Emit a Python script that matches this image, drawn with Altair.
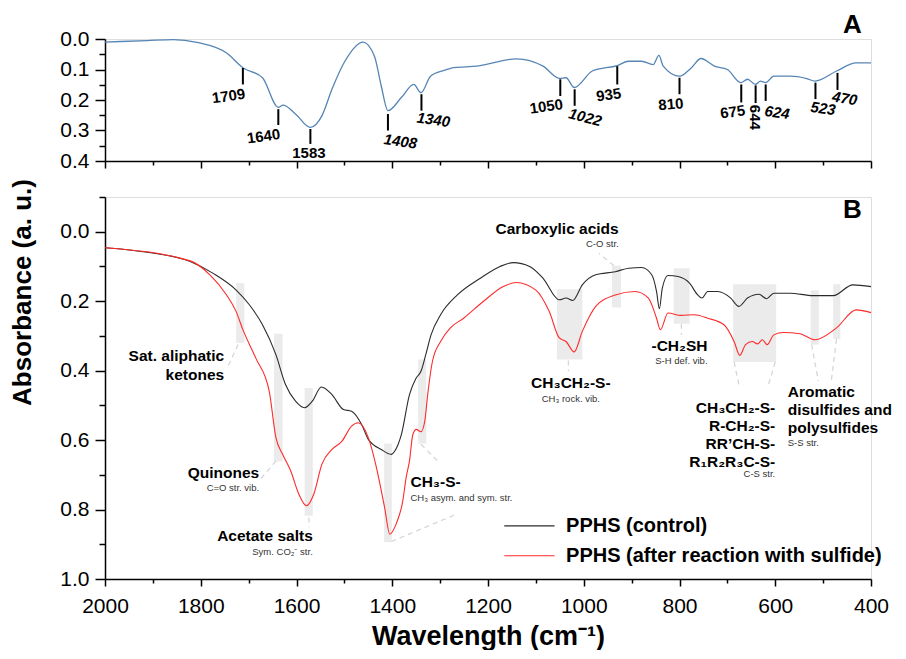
import altair as alt
import pandas as pd

# ---------------- data ----------------
# Panel A spectrum (wavenumber, absorbance)
a_wn = [2000, 1912, 1857, 1808, 1746, 1712, 1671, 1638, 1628, 1602, 1571, 1547, 1526, 1499, 1461,
        1437, 1423, 1409, 1381, 1355, 1340, 1320, 1292, 1271, 1223, 1141, 1085, 1051, 1037, 1020,
        982, 930, 906, 879, 855, 843, 834, 800, 775, 755, 727, 700, 672, 658, 641, 631, 620, 603,
        569, 534, 517, 472, 431, 400]
a_abs = [0.010, 0.005, 0.002, 0.011, 0.046, 0.094, 0.127, 0.224, 0.217, 0.246, 0.290, 0.252, 0.165,
         0.073, 0.010, 0.057, 0.154, 0.235, 0.192, 0.149, 0.176, 0.122, 0.103, 0.094, 0.089, 0.065,
         0.089, 0.129, 0.127, 0.159, 0.105, 0.087, 0.073, 0.073, 0.084, 0.054, 0.089, 0.122, 0.094,
         0.064, 0.089, 0.100, 0.143, 0.132, 0.149, 0.138, 0.143, 0.122, 0.122, 0.130, 0.138, 0.105,
         0.078, 0.078]

# Panel B spectra
series_names = ["PPHS (control)", "PPHS (after reaction with sulfide)"]
series_colors = ["#2b2b2b", "#ff2a2a"]

ctrl_wn = [2000, 1912, 1822, 1774, 1726, 1698, 1671, 1643, 1623, 1602, 1583, 1567, 1548, 1526, 1502,
           1485, 1464, 1450, 1423, 1402, 1395, 1381, 1364, 1350, 1340, 1330, 1319, 1299, 1264, 1216,
           1175, 1147, 1113, 1085, 1051, 1037, 1023, 1003, 975, 934, 906, 879, 858, 848, 842, 836,
           824, 803, 779, 762, 753, 741, 720, 693, 676, 658, 634, 618, 603, 569, 521, 479, 438, 400]
ctrl_abs = [0.046, 0.059, 0.086, 0.120, 0.168, 0.211, 0.268, 0.354, 0.440, 0.488, 0.507, 0.488, 0.447,
            0.469, 0.512, 0.517, 0.555, 0.598, 0.627, 0.641, 0.632, 0.584, 0.469, 0.421, 0.402, 0.354,
            0.297, 0.239, 0.182, 0.134, 0.100, 0.089, 0.100, 0.134, 0.196, 0.191, 0.198, 0.153, 0.124,
            0.115, 0.105, 0.103, 0.124, 0.172, 0.222, 0.163, 0.126, 0.129, 0.148, 0.182, 0.191, 0.172,
            0.172, 0.191, 0.215, 0.191, 0.180, 0.193, 0.177, 0.177, 0.184, 0.184, 0.153, 0.158]

sulf_wn = [2000, 1822, 1781, 1746, 1726, 1712, 1685, 1657, 1643, 1629, 1612, 1595, 1579, 1564, 1547,
           1526, 1505, 1485, 1471, 1450, 1433, 1416, 1405, 1392, 1378, 1371, 1364, 1357, 1350, 1340,
           1332, 1326, 1316, 1299, 1278, 1251, 1210, 1168, 1141, 1100, 1072, 1051, 1037, 1020, 1003,
           975, 934, 893, 865, 848, 840, 824, 797, 769, 741, 707, 686, 674, 662, 648, 637, 627, 617,
           603, 583, 548, 517, 472, 431, 400]
sulf_abs = [0.046, 0.084, 0.124, 0.182, 0.230, 0.282, 0.364, 0.459, 0.593, 0.641, 0.689, 0.756, 0.789,
            0.756, 0.670, 0.627, 0.603, 0.560, 0.550, 0.593, 0.679, 0.794, 0.871, 0.842, 0.775, 0.708,
            0.660, 0.584, 0.569, 0.576, 0.545, 0.469, 0.373, 0.316, 0.276, 0.249, 0.201, 0.158, 0.146,
            0.168, 0.230, 0.306, 0.316, 0.346, 0.287, 0.215, 0.182, 0.172, 0.191, 0.249, 0.282, 0.234,
            0.241, 0.239, 0.249, 0.268, 0.316, 0.356, 0.325, 0.316, 0.323, 0.311, 0.325, 0.297, 0.290,
            0.294, 0.311, 0.277, 0.225, 0.233]

# Panel A peak annotations
peak_text = ["1709", "1640", "1583", "1408", "1340", "1050", "1022", "935", "810", "675", "644",
             "624", "523", "470"]
peak_wn = [1712, 1638, 1571, 1409, 1339, 1049, 1019, 930, 800, 671, 641, 620, 516, 470]
peak_top = [0.095, 0.230, 0.295, 0.246, 0.181, 0.132, 0.165, 0.089, 0.127, 0.149, 0.152, 0.149,
            0.143, 0.111]
peak_bottom = [0.149, 0.282, 0.344, 0.300, 0.235, 0.187, 0.219, 0.149, 0.181, 0.208, 0.210, 0.203,
               0.197, 0.167]
peak_label_wn = [1742, 1669, 1574, 1383, 1314, 1078, 997, 948, 818, 689, 642, 596, 500, 455]
peak_label_abs = [0.187, 0.319, 0.373, 0.336, 0.265, 0.221, 0.257, 0.183, 0.214, 0.239, 0.257,
                  0.241, 0.228, 0.195]
peak_angle = [352, 352, 0, 8, 8, 352, 15, 352, 355, 352, 90, 8, 8, 10]

# Panel B highlighted bands
band_wn1 = [1726, 1647, 1583, 1417, 1346, 1056, 941, 812, 688, 526, 479]
band_wn2 = [1709, 1629, 1566, 1401, 1329, 1003, 922, 779, 598, 509, 464]
band_top = [0.148, 0.294, 0.450, 0.610, 0.368, 0.166, 0.098, 0.105, 0.151, 0.169, 0.151]
band_bottom = [0.320, 0.662, 0.818, 0.894, 0.610, 0.368, 0.218, 0.265, 0.375, 0.325, 0.309]

# Panel B leader lines
lead_wn1 = [1722, 1643, 1574, 1402, 1340, 1032, 937, 796, 686, 600, 524, 472]
lead_abs1 = [0.325, 0.660, 0.823, 0.892, 0.612, 0.371, 0.098, 0.265, 0.375, 0.375, 0.325, 0.309]
lead_wn2 = [1743, 1678, 1574, 1265, 1306, 1032, 968, 796, 676, 614, 510, 483]
lead_abs2 = [0.387, 0.717, 0.851, 0.813, 0.659, 0.402, 0.062, 0.297, 0.440, 0.440, 0.430, 0.430]

# Panel B labels
note_text = ["Sat. aliphatic", "ketones", "Quinones", "Acetate salts", "CH₃-S-", "Carboxylic acids",
             "CH₃CH₂-S-", "-CH₂SH", "CH₃CH₂-S-", "R-CH₂-S-", "RR’CH-S-", "R₁R₂R₃C-S-",
             "Aromatic", "disulfides and", "polysulfides"]
note_wn = [1751, 1751, 1678, 1566, 1362, 927, 1027, 800, 600, 600, 600, 600, 574, 574, 574]
note_abs = [0.357, 0.413, 0.694, 0.877, 0.722, -0.007, 0.435, 0.330, 0.507, 0.560, 0.612, 0.663,
            0.462, 0.514, 0.564]
note_align = ["right", "right", "right", "right", "left", "right", "center", "center", "right",
              "right", "right", "right", "left", "left", "left"]

sub_text = ["C=O str. vib.", "Sym. CO₂⁻ str.", "CH₃ asym. and sym. str.", "C-O str.",
            "CH₃ rock. vib.", "S-H def. vib.", "C-S str.", "S-S str."]
sub_wn = [1678, 1566, 1362, 927, 1027, 796, 600, 574]
sub_abs = [0.739, 0.921, 0.768, 0.036, 0.481, 0.371, 0.699, 0.609]
sub_align = ["right", "right", "left", "right", "center", "center", "right", "left"]

# legend (drawn inside panel B)
leg_wn1 = [1166, 1166]
leg_wn2 = [1061, 1061]
leg_abs = [0.847, 0.933]
leg_text_wn = [1037, 1037]

# panel letters
letter_text = ["A", "B"]
letter_wn = [439, 439]
letter_abs = [-0.047, -0.062]

FONT = "Liberation Sans"
W = 766

# ---------------- frames ----------------
a_df = pd.DataFrame({"wn": a_wn, "val": a_abs})
spec_df = pd.concat([
    pd.DataFrame({"wn": ctrl_wn, "val": ctrl_abs, "series": series_names[0], "order": 0}),
    pd.DataFrame({"wn": sulf_wn, "val": sulf_abs, "series": series_names[1], "order": 1}),
])
peak_df = pd.DataFrame({"text": peak_text, "wn": peak_wn, "val": peak_top, "val2": peak_bottom,
                        "lwn": peak_label_wn, "lval": peak_label_abs, "ang": peak_angle})
band_df = pd.DataFrame({"wn": band_wn1, "wn2": band_wn2, "val": band_top, "val2": band_bottom})
lead_df = pd.DataFrame({"wn": lead_wn1, "wn2": lead_wn2, "val": lead_abs1, "val2": lead_abs2})
note_df = pd.DataFrame({"text": note_text, "wn": note_wn, "val": note_abs, "al": note_align})
sub_df = pd.DataFrame({"text": sub_text, "wn": sub_wn, "val": sub_abs, "al": sub_align})
leg_df = pd.DataFrame({"series": series_names, "wn": leg_wn1, "wn2": leg_wn2, "val": leg_abs,
                       "twn": leg_text_wn})

# ---------------- scales / axes ----------------
xs = alt.Scale(domain=[400, 2000], reverse=True, nice=False, zero=False)
ys_a = alt.Scale(domain=[0, 0.4], reverse=True, nice=False, zero=False)
ys_b = alt.Scale(domain=[-0.1, 1.0], reverse=True, nice=False, zero=False)
cs = alt.Scale(domain=series_names, range=series_colors)

x_vals = list(range(400, 2001, 100))
x_tick = {"condition": {"test": "datum.value % 200 === 0", "value": 7}, "value": 4}
common_axis = dict(grid=False, domainColor="black", domainWidth=1.5, tickColor="black",
                   tickWidth=1.5, labelColor="black", labelFont=FONT, titleFont=FONT,
                   titleColor="black")

x_axis_a = alt.Axis(values=x_vals, labels=False, title=None, tickSize=x_tick, **common_axis)
x_axis_b = alt.Axis(values=x_vals, title="Wavelength (cm⁻¹)", tickSize=x_tick,
                    labelExpr="datum.value % 200 === 0 ? format(datum.value, 'd') : ''",
                    labelFontSize=21, labelPadding=9, titleFontSize=27, titleFontWeight="bold",
                    titlePadding=7, labelFlush=False, labelOverlap=False, **common_axis)

ya_vals = [round(0.05 * i, 2) for i in range(9)]
ya_test = "abs(datum.value*10 - round(datum.value*10)) < 0.01"
y_axis_a = alt.Axis(values=ya_vals, title=None,
                    tickSize={"condition": {"test": ya_test, "value": 10}, "value": 6},
                    labelExpr=ya_test + " ? format(datum.value, '.1f') : ''",
                    labelFontSize=21, labelPadding=6, labelOverlap=False, **common_axis)

yb_vals = [round(-0.1 + 0.1 * i, 1) for i in range(12)]
yb_test = "abs(datum.value*5 - round(datum.value*5)) < 0.01"
y_axis_b = alt.Axis(values=yb_vals, title="Absorbance (a. u.)",
                    tickSize={"condition": {"test": yb_test, "value": 10}, "value": 6},
                    labelExpr=yb_test + " ? format(datum.value, '.1f') : ''",
                    labelFontSize=21, labelPadding=6, labelOverlap=False,
                    titleFontSize=26, titleFontWeight="bold", titleX=-70, titleY=95,
                    **common_axis)


def X(field, axis):
    return alt.X(field, type="quantitative", scale=xs, axis=axis)


# ---------------- panel A ----------------
a_line = alt.Chart(a_df).mark_line(color="#5585b5", strokeWidth=1.3, interpolate="monotone").encode(
    x=X("wn", x_axis_a), y=alt.Y("val:Q", scale=ys_a, axis=y_axis_a))
a_ticks = alt.Chart(peak_df).mark_rule(color="black", strokeWidth=2).encode(
    x=X("wn", x_axis_a), y=alt.Y("val:Q", scale=ys_a, axis=y_axis_a), y2="val2:Q")


def peak_labels(flt, italic):
    return alt.Chart(peak_df).transform_filter(flt).mark_text(
        font=FONT, fontSize=15, fontWeight="bold", fontStyle="italic" if italic else "normal",
        color="black", baseline="middle", align="center").encode(
        x=X("lwn", x_axis_a), y=alt.Y("lval:Q", scale=ys_a, axis=y_axis_a),
        text="text:N", angle=alt.Angle("ang:Q", scale=None))


a_lab1 = peak_labels("datum.ang == 0 || datum.ang >= 90", False)
a_lab2 = peak_labels("datum.ang > 0 && datum.ang < 90", True)

letters_df = pd.DataFrame({"text": letter_text, "wn": letter_wn, "val": letter_abs})
a_letter = alt.Chart(letters_df).transform_filter("datum.text == 'A'").mark_text(
    font=FONT, fontSize=26, fontWeight="bold", color="black", baseline="middle").encode(
    x=X("wn", x_axis_a), y=alt.Y("val:Q", scale=ys_a, axis=y_axis_a), text="text:N")

top = alt.layer(a_line, a_ticks, a_lab1, a_lab2, a_letter).properties(width=W, height=122)

# ---------------- panel B ----------------
yb = lambda f: alt.Y(f, type="quantitative", scale=ys_b, axis=y_axis_b)

bands = alt.Chart(band_df).mark_rect(color="#ebebeb").encode(
    x=X("wn", x_axis_b), x2="wn2:Q", y=yb("val"), y2="val2:Q")
leads = alt.Chart(lead_df).mark_rule(color="#d6d6d6", strokeWidth=1.3, strokeDash=[5, 4]).encode(
    x=X("wn", x_axis_b), x2="wn2:Q", y=yb("val"), y2="val2:Q")
lines = alt.Chart(spec_df).mark_line(strokeWidth=1.1, interpolate="monotone").encode(
    x=X("wn", x_axis_b), y=yb("val"),
    color=alt.Color("series:N", scale=cs, legend=None), detail="order:N")


def text_layer(df, align, size, weight, color):
    return alt.Chart(df).transform_filter(f"datum.al == '{align}'").mark_text(
        font=FONT, fontSize=size, fontWeight=weight, color=color, align=align,
        baseline="middle").encode(x=X("wn", x_axis_b), y=yb("val"), text="text:N")


notes = [text_layer(note_df, a, 15.5, "bold", "black") for a in ["left", "right", "center"]]
subs = [text_layer(sub_df, a, 9.5, "normal", "#333333") for a in ["left", "right", "center"]]

leg_lines = alt.Chart(leg_df).mark_rule(strokeWidth=1.2).encode(
    x=X("wn", x_axis_b), x2="wn2:Q", y=yb("val"),
    color=alt.Color("series:N", scale=cs, legend=None))
leg_text = alt.Chart(leg_df).mark_text(font=FONT, fontSize=20, fontWeight="bold", color="black",
                                       align="left", baseline="middle").encode(
    x=X("twn", x_axis_b), y=yb("val"), text="series:N")

b_letter = alt.Chart(letters_df).transform_filter("datum.text == 'B'").mark_text(
    font=FONT, fontSize=26, fontWeight="bold", color="black", baseline="middle").encode(
    x=X("wn", x_axis_b), y=yb("val"), text="text:N")

bottom = alt.layer(bands, leads, lines, *subs, *notes, leg_lines, leg_text, b_letter).properties(
    width=W, height=382)

chart = alt.vconcat(top, bottom, spacing=6).configure_view(stroke=None).configure(
    font=FONT).properties(padding={"left": 0, "top": 3, "right": -1, "bottom": 0})

chart.save("out.html", embed_options={"renderer": "svg", "actions": False})
